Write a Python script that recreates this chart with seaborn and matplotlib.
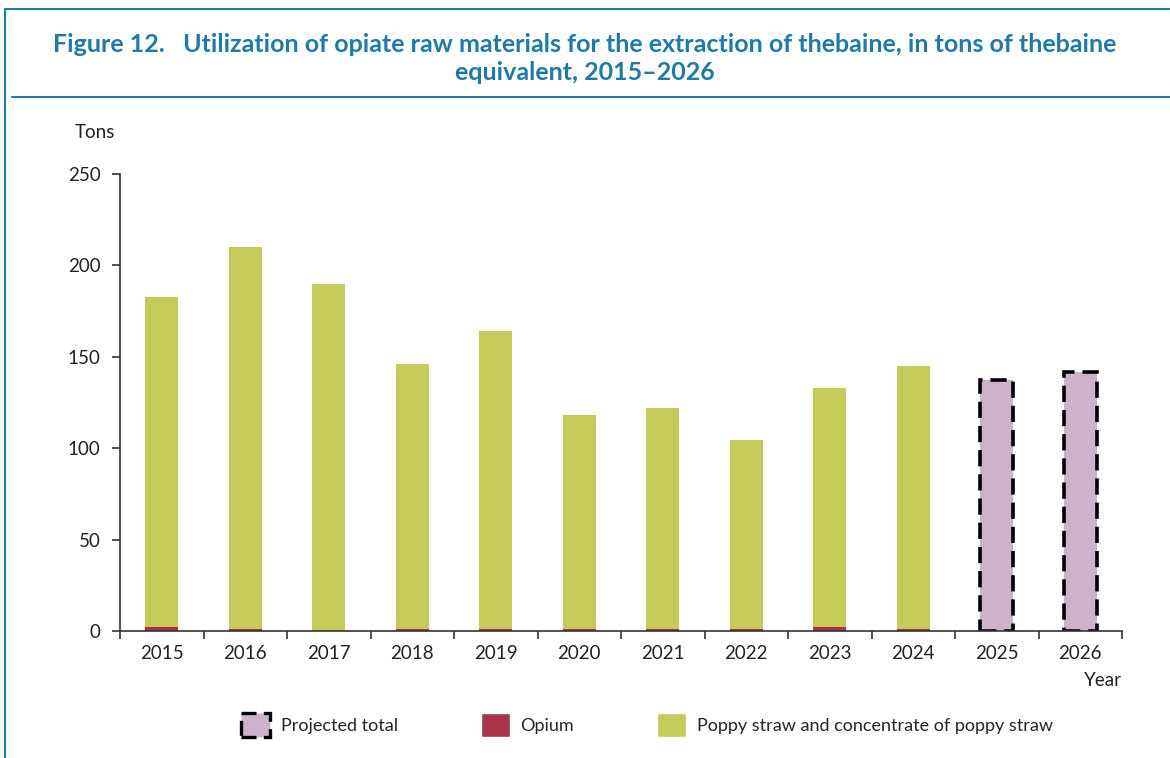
import pandas as pd
import numpy as np
import matplotlib.pyplot as plt
import matplotlib.patches as mpatches
from matplotlib.lines import Line2D
import seaborn as sns

years = ['2015', '2016', '2017', '2018', '2019', '2020', '2021', '2022', '2023', '2024', '2025', '2026']
opium = [2, 1, 0, 1, 1, 1, 1, 1, 2, 1, None, None]
poppy_straw = [181, 209, 190, 145, 163, 117, 121, 103.5, 131, 144, None, None]
projected = [None] * 10 + [137.5, 141.5]

GREEN = '#C5CB58'
RED = '#A8334A'
PURPLE = '#CCB3CB'
BLUE = '#1F7AA8'

sns.set_style('white')
plt.rcParams['font.family'] = ['Lato', 'DejaVu Sans']

df = pd.DataFrame({'year': years, 'opium': opium, 'poppy': poppy_straw, 'projected': projected})
df['total'] = df['opium'] + df['poppy']

fig = plt.figure(figsize=(11.7, 7.58), dpi=100)
ax = fig.add_axes([0.1026, 0.1675, 0.8564, 0.6029])

hist = df.dropna(subset=['total'])
proj = df.dropna(subset=['projected'])
sns.barplot(data=hist, x='year', y='total', order=years, color=GREEN, width=0.4,
            saturation=1, ax=ax, linewidth=0)
sns.barplot(data=hist, x='year', y='opium', order=years, color=RED, width=0.4,
            saturation=1, ax=ax, linewidth=0)
sns.barplot(data=proj, x='year', y='projected', order=years, color=PURPLE, width=0.4,
            saturation=1, ax=ax, edgecolor='black', linewidth=2.6, linestyle=(0, (4.5, 2.2)))

ax.set_xlim(-0.5, len(years) - 0.5)
ax.set_ylim(0, 250)
ax.set_yticks([0, 50, 100, 150, 200, 250])
ax.set_xlabel('')
ax.set_ylabel('')
for s in ['top', 'right']:
    ax.spines[s].set_visible(False)
for s in ['left', 'bottom']:
    ax.spines[s].set_color('#333333')
    ax.spines[s].set_linewidth(1.2)
ax.set_xticks(np.arange(-0.5, len(years)), minor=True)
ax.tick_params(axis='x', which='major', length=0, pad=10, labelsize=13.5, colors='#222222')
ax.tick_params(axis='x', which='minor', length=6, width=1.2, color='#333333', direction='out')
ax.tick_params(axis='y', length=6, width=1.2, color='#333333', labelsize=13.5, colors='#222222', pad=8)
ax.yaxis.set_tick_params(left=True)
ax.xaxis.set_tick_params(which='minor', bottom=True)

fig.text(75 / 1170, 1 - 133 / 758, 'Tons', fontsize=13.5, color='#222222', ha='left', va='center')
fig.text(1122 / 1170, 1 - 680 / 758, 'Year', fontsize=13.5, color='#222222', ha='right', va='center')

fig.text(0.5, 1 - 44 / 758,
         'Figure 12.   Utilization of opiate raw materials for the extraction of thebaine, in tons of thebaine',
         fontsize=18, fontweight='bold', color=BLUE, ha='center', va='center')
fig.text(0.5, 1 - 73 / 758, 'equivalent, 2015\u20132026',
         fontsize=18, fontweight='bold', color=BLUE, ha='center', va='center')

fig.add_artist(Line2D([5 / 1170, 1], [1 - 9 / 758] * 2, color=BLUE, lw=1.5))
fig.add_artist(Line2D([5 / 1170] * 2, [0, 1 - 9 / 758], color=BLUE, lw=1.5))
fig.add_artist(Line2D([12 / 1170, 1], [1 - 97 / 758] * 2, color=BLUE, lw=1.5))

handles = [
    mpatches.Patch(facecolor=PURPLE, edgecolor='black', linewidth=2.4, linestyle=(0, (4.5, 2.2)), label='Projected total'),
    mpatches.Patch(facecolor=RED, label='Opium'),
    mpatches.Patch(facecolor=GREEN, label='Poppy straw and concentrate of poppy straw'),
]
fig.legend(handles=handles, loc='center', bbox_to_anchor=(0.553, 1 - 725 / 758), ncol=3,
           frameon=False, fontsize=13, handlelength=1.6, handleheight=1.6, columnspacing=4.6,
           handletextpad=0.6)

fig.savefig('out.png', dpi=100)
